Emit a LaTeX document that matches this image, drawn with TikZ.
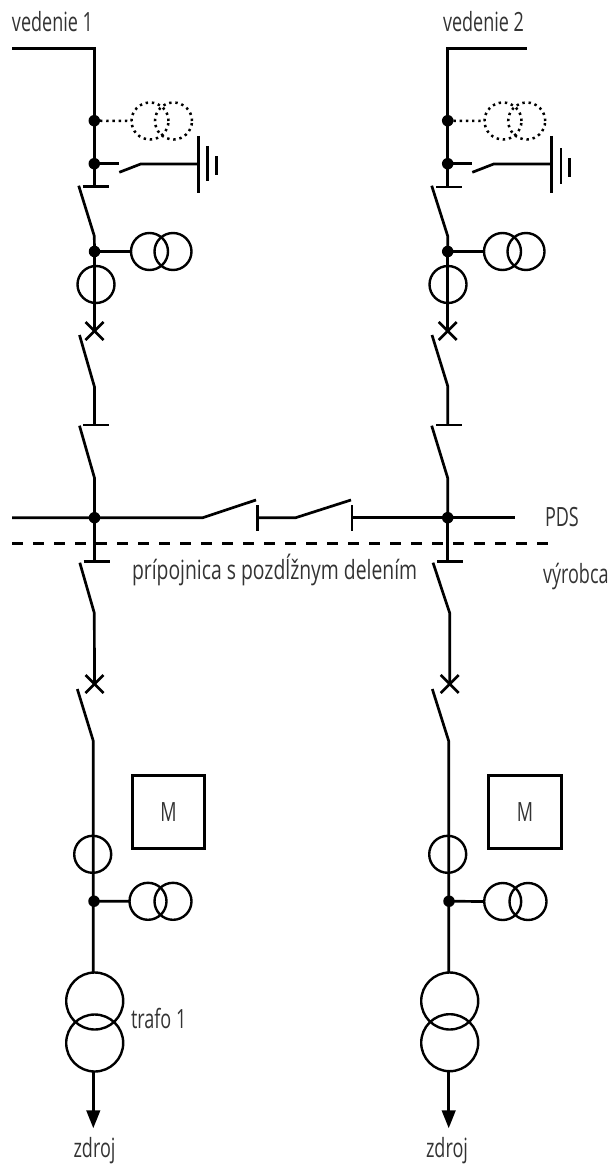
\documentclass[tikz,border=0pt]{standalone}
\usepackage{fontspec}
\setmainfont[FakeStretch=0.68]{Open Sans}
\newfontfamily\widerlabel[FakeStretch=0.73]{Open Sans}
\usetikzlibrary{arrows.meta}
\definecolor{txt}{HTML}{333333}
\tikzset{
  wire/.style={line width=2.7pt,line cap=butt,line join=miter},
  dotwire/.style={line width=2.5pt,dash pattern=on 2.4pt off 3.8pt},
  ring/.style={circle,draw,line width=2.4pt,inner sep=0pt,outer sep=0pt,minimum size=37pt},
  bigring/.style={circle,draw,line width=2.4pt,inner sep=0pt,outer sep=0pt,minimum size=57pt},
  dotring/.style={circle,draw,line width=2.5pt,dash pattern=on 2.4pt off 3.8pt,inner sep=0pt,outer sep=0pt,minimum size=37pt},
  junction/.style={circle,fill=black,inner sep=0pt,outer sep=0pt,minimum size=11.5pt},
  lab/.style={text=txt,font=\fontsize{26.5pt}{28pt}\selectfont,inner sep=0pt,outer sep=0pt},
  mbox/.style={draw,line width=2.6pt,inner sep=0pt,outer sep=0pt,minimum size=72.5pt,text=txt,font=\fontsize{26.5pt}{28pt}\selectfont},
  arrowwire/.style={line width=2.7pt,-{Triangle[length=18pt,width=13.5pt]}},
}
\begin{document}
\begin{tikzpicture}[x=1pt,y=-1pt]
\useasboundingbox (0,0) rectangle (613,1166);
% ---------- labels
\node[lab,anchor=base west] (l1) at (12,32) {vedenie 1};
\node[lab,anchor=base west] (l2) at (443,32) {vedenie 2};
\node[lab,anchor=base west] (pds) at (545,526.7) {PDS};
\node[lab,anchor=base west] (vyr) at (543,583.5) {výrobca};
\node[lab,anchor=base west] (pri) at (132,579.5) {\widerlabel prípojnica s pozdĺžnym delením};
\node[lab,anchor=base west] (tr1) at (131,1028) {trafo 1};
\node[lab,anchor=base] (z1) at (94.5,1157) {zdroj};
\node[lab,anchor=base] (z2) at (447,1157) {zdroj};
% ---------- left column
\coordinate (aS) at (12,48.5);
\coordinate (aC) at (94.3,48.5);
\node[junction] (aJ1) at (94.3,120.7) {};
\node[junction] (aJ2) at (94.3,163.7) {};
\node[junction] (aJ3) at (94.5,251.5) {};
\node[dotring] (aD1) at (150,121) {};
\node[dotring] (aD2) at (173.5,121) {};
\node[ring] (aT1) at (149.5,251.5) {};
\node[ring] (aT2) at (173,251.5) {};
\node[ring] (aI1) at (96,284.5) {};
\draw[wire] (aS) -- (aC) -- (aJ1.center) -- (aJ2.center);
\draw[dotwire] (aJ1) -- (aD1.west);
% earth switch
\coordinate (aE0) at (119,163.7);
\coordinate (aE1) at (119.3,172.3);
\coordinate (aE2) at (140.7,164);
\coordinate (aE3) at (198.3,164);
\draw[wire] (aJ2.center) -- (aE0);
\draw[wire] (aE1) -- (aE2) -- (aE3);
\coordinate (aG1a) at (198.3,136); \coordinate (aG1b) at (198.3,193);
\coordinate (aG2a) at (207.3,146); \coordinate (aG2b) at (207.3,181.5);
\coordinate (aG3a) at (216.3,156.5); \coordinate (aG3b) at (216.3,175);
\draw[wire] (aG1a) -- (aG1b);
\draw[wire] (aG2a) -- (aG2b);
\draw[wire] (aG3a) -- (aG3b);
% disconnector below earth switch
\coordinate (aB1a) at (82.7,186.3); \coordinate (aB1b) at (108.7,186.3); \coordinate (aB1) at (94.3,186.3);
\draw[wire] (aB1a) -- (aB1b);
\draw[wire] (aJ2.center) -- (aB1);
\coordinate (aS1a) at (78.7,185.7); \coordinate (aS1b) at (94.3,236);
\draw[wire] (aS1a) -- (aS1b) -- (aJ3.center);
\draw[wire] (aJ3.center) -- (aT1.west);
% breaker
\coordinate (aX) at (94.5,331);
\draw[wire] (aJ3.center) -- (aX);
\draw[wire] ([shift={(-9,-9)}]aX) -- ([shift={(9,9)}]aX);
\draw[wire] ([shift={(9,-9)}]aX) -- ([shift={(-9,9)}]aX);
\coordinate (aS2a) at (79.5,335); \coordinate (aS2b) at (94.5,387); \coordinate (aB2) at (94.5,425);
\draw[wire] (aS2a) -- (aS2b) -- (aB2);
\coordinate (aB2a) at (83,425); \coordinate (aB2b) at (109,425);
\draw[wire] (aB2a) -- (aB2b);
\coordinate (aS3a) at (79.5,425.7); \coordinate (aS3b) at (94.5,478);
\node[junction] (aJ4) at (94.5,517.7) {};
\draw[wire] (aS3a) -- (aS3b) -- (aJ4.center);
\coordinate (aB3) at (94.5,561.7);
\draw[wire] (aJ4.center) -- (aB3);
\coordinate (aB3a) at (83.5,561.7); \coordinate (aB3b) at (109.5,561.7);
\draw[wire] (aB3a) -- (aB3b);
\coordinate (aS4a) at (79.8,562.7); \coordinate (aS4b) at (94.3,613); \coordinate (aX2) at (94.5,684);
\draw[wire] (aS4a) -- (aS4b) -- (aX2);
\draw[wire] ([shift={(-9,-9)}]aX2) -- ([shift={(9,9)}]aX2);
\draw[wire] ([shift={(9,-9)}]aX2) -- ([shift={(-9,9)}]aX2);
\coordinate (aS5a) at (77.3,689); \coordinate (aS5b) at (93.3,741);
\node[ring] (aI2) at (92.7,854.3) {};
\node[junction] (aJ5) at (94,901.2) {};
\node[bigring] (aP1) at (94.7,1001) {};
\node[bigring] (aP2) at (94.7,1043) {};
\node[ring] (aT3) at (148,901.3) {};
\node[ring] (aT4) at (173,901.3) {};
\coordinate (aP1t) at (93.3,972.5);
\coordinate (aP2b) at (93.3,1071.5);
\coordinate (aTip) at (93.3,1128.3);
\draw[wire] (aS5a) -- (aS5b) -- (aP1t);
\draw[wire] (aJ5.center) -- (aT3.west);
\draw[arrowwire] (aP2b) -- (aTip);
\node[mbox] (aM) at (168.5,812) {M};
% ---------- right column
\coordinate (bS) at (526.7,48.5);
\coordinate (bC) at (447.7,48.5);
\node[junction] (bJ1) at (447.7,120.7) {};
\node[junction] (bJ2) at (447.7,163.7) {};
\node[junction] (bJ3) at (447.7,251.5) {};
\node[dotring] (bD1) at (503,121) {};
\node[dotring] (bD2) at (526.7,121) {};
\node[ring] (bT1) at (502.5,251.5) {};
\node[ring] (bT2) at (526,251.5) {};
\node[ring] (bI1) at (448,284.5) {};
\draw[wire] (bS) -- (bC) -- (bJ1.center) -- (bJ2.center);
\draw[dotwire] (bJ1) -- (bD1.west);
\coordinate (bE0) at (472,163.7);
\coordinate (bE1) at (472.3,172.3);
\coordinate (bE2) at (493.7,164);
\coordinate (bE3) at (551.3,164);
\draw[wire] (bJ2.center) -- (bE0);
\draw[wire] (bE1) -- (bE2) -- (bE3);
\coordinate (bG1a) at (551.3,136); \coordinate (bG1b) at (551.3,193.5);
\coordinate (bG2a) at (561,148.5); \coordinate (bG2b) at (561,184);
\coordinate (bG3a) at (569.7,158.5); \coordinate (bG3b) at (569.7,177.5);
\draw[wire] (bG1a) -- (bG1b);
\draw[wire] (bG2a) -- (bG2b);
\draw[wire] (bG3a) -- (bG3b);
\coordinate (bB1a) at (436,187); \coordinate (bB1b) at (461.7,187); \coordinate (bB1) at (447.7,187);
\draw[wire] (bB1a) -- (bB1b);
\draw[wire] (bJ2.center) -- (bB1);
\coordinate (bS1a) at (431.7,185.7); \coordinate (bS1b) at (447.7,236);
\draw[wire] (bS1a) -- (bS1b) -- (bJ3.center);
\draw[wire] (bJ3.center) -- (bT1.west);
\coordinate (bX) at (447.7,331);
\draw[wire] (bJ3.center) -- (bX);
\draw[wire] ([shift={(-9,-9)}]bX) -- ([shift={(9,9)}]bX);
\draw[wire] ([shift={(9,-9)}]bX) -- ([shift={(-9,9)}]bX);
\coordinate (bS2a) at (432,335); \coordinate (bS2b) at (447.7,386); \coordinate (bB2) at (447.7,425);
\draw[wire] (bS2a) -- (bS2b) -- (bB2);
\coordinate (bB2a) at (436,425); \coordinate (bB2b) at (461.7,425);
\draw[wire] (bB2a) -- (bB2b);
\coordinate (bS3a) at (431.7,425.7); \coordinate (bS3b) at (447.7,478);
\node[junction] (bJ4) at (447.7,517.7) {};
\draw[wire] (bS3a) -- (bS3b) -- (bJ4.center);
\coordinate (bB3) at (447.7,561.7);
\draw[wire] (bJ4.center) -- (bB3);
\coordinate (bB3a) at (437,561.7); \coordinate (bB3b) at (463,561.7);
\draw[wire] (bB3a) -- (bB3b);
\coordinate (bS4a) at (433,562.7); \coordinate (bS4b) at (449.7,613); \coordinate (bX2) at (449.7,684);
\draw[wire] (bS4a) -- (bS4b) -- (bX2);
\draw[wire] ([shift={(-9,-9)}]bX2) -- ([shift={(9,9)}]bX2);
\draw[wire] ([shift={(9,-9)}]bX2) -- ([shift={(-9,9)}]bX2);
\coordinate (bS5a) at (432.3,689); \coordinate (bS5b) at (448.7,741);
\node[ring] (bI2) at (447.7,854.3) {};
\node[junction] (bJ5) at (449,901.2) {};
\node[bigring] (bP1) at (449.7,1001) {};
\node[bigring] (bP2) at (449.7,1042.7) {};
\node[ring] (bT3) at (502.7,901.5) {};
\node[ring] (bT4) at (528,901.5) {};
\coordinate (bP1t) at (448.7,972.5);
\coordinate (bP2b) at (448.7,1071.5);
\coordinate (bTip) at (448.7,1128.3);
\draw[wire] (bS5a) -- (bS5b) -- (bP1t);
\draw[wire] (bJ5.center) -- (bT3.west);
\draw[arrowwire] (bP2b) -- (bTip);
\node[mbox] (bM) at (525,812) {M};
% ---------- busbar
\coordinate (bus0) at (12,517.7);
\coordinate (bus1) at (202.7,517.7);
\coordinate (bus2) at (256,500);
\coordinate (bus3a) at (257.7,505); \coordinate (bus3b) at (257.7,530.7); \coordinate (bus3) at (257.7,517.7);
\coordinate (bus4) at (295.7,517.7);
\coordinate (bus5) at (351,500);
\coordinate (bus6a) at (352,505); \coordinate (bus6b) at (352,530.7); \coordinate (bus6) at (352,517.7);
\coordinate (bus7) at (515,517.7);
\draw[wire] (bus0) -- (bus1) -- (bus2);
\draw[wire] (bus3a) -- (bus3b);
\draw[wire] (bus3) -- (bus4) -- (bus5);
\draw[wire] (bus6a) -- (bus6b);
\draw[wire] (bus6) -- (bus7);
\coordinate (dash0) at (12,543.3);
\coordinate (dash1) at (547.7,543.3);
\draw[line width=2.7pt,dash pattern=on 11pt off 10pt] (dash0) -- (dash1);
\end{tikzpicture}
\end{document}
